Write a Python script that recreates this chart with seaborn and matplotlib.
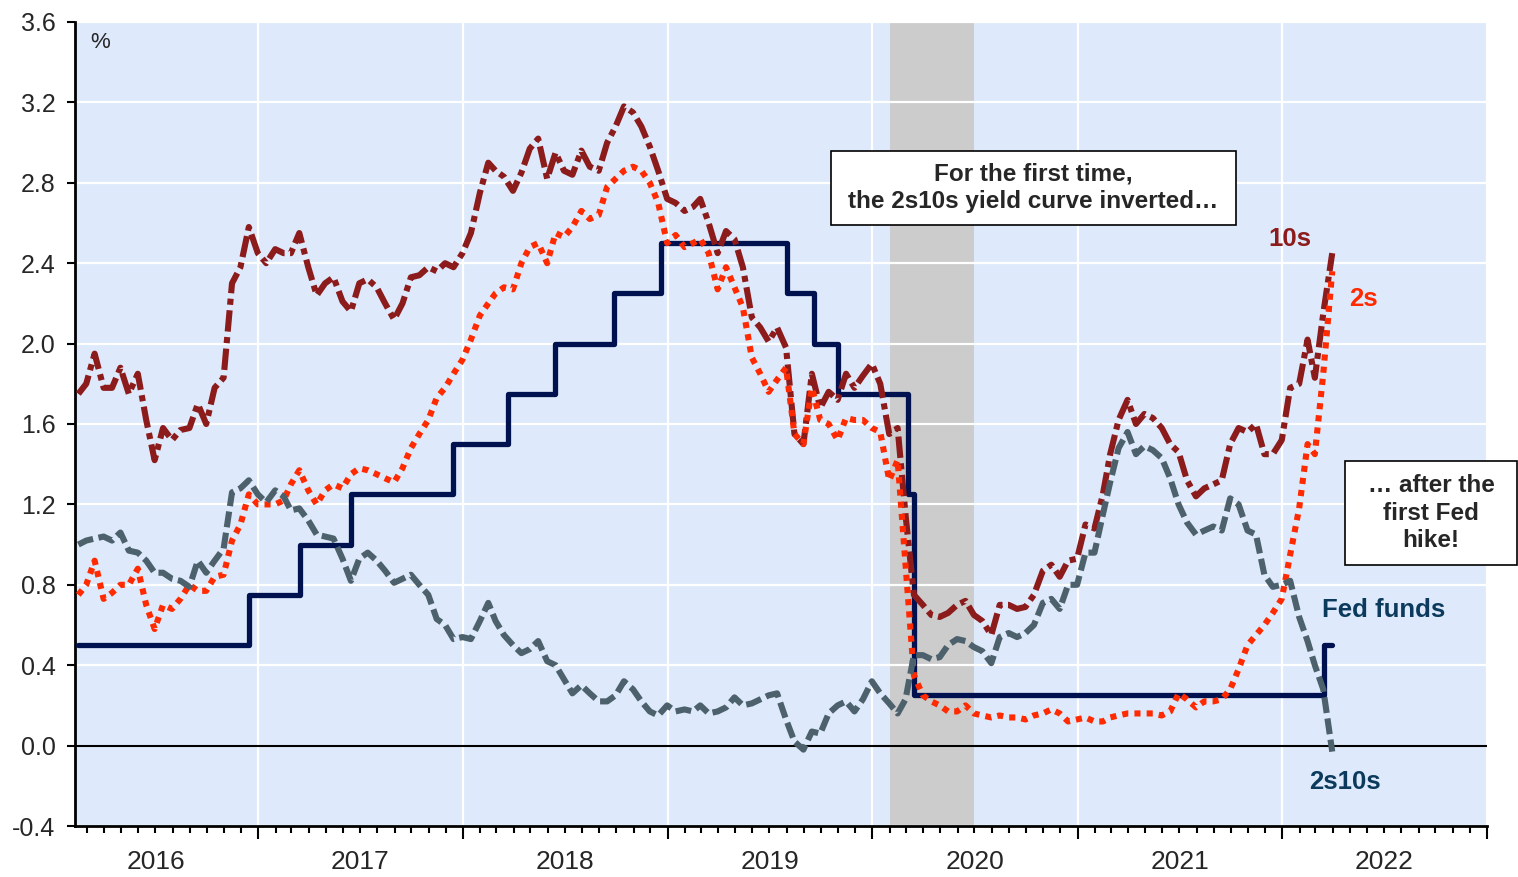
import pandas as pd
import matplotlib
matplotlib.use("Agg")
import matplotlib.pyplot as plt
import matplotlib.dates as mdates
from matplotlib.patches import Rectangle
from matplotlib.ticker import MultipleLocator, FormatStrFormatter
import seaborn as sns

#%% DATA (mid-month and month-end points)
months = pd.date_range("2016-02-01", "2022-03-01", freq="MS")
dates = pd.DatetimeIndex([d for m in months
                          for d in (m + pd.Timedelta(days=14), m + pd.offsets.MonthEnd(0))])

tens_2016 = [1.75, 1.80, 1.95, 1.78, 1.78, 1.88, 1.75, 1.85, 1.62, 1.42, 1.58, 1.52,
             1.57, 1.58, 1.70, 1.60, 1.78, 1.83, 2.30, 2.38, 2.58, 2.45]
tens_2017 = [2.40, 2.47, 2.45, 2.45, 2.55, 2.38, 2.24, 2.30, 2.33, 2.21, 2.16, 2.30,
             2.32, 2.28, 2.20, 2.12, 2.20, 2.33, 2.34, 2.38, 2.36, 2.40, 2.38, 2.45]
tens_2018 = [2.55, 2.75, 2.90, 2.86, 2.83, 2.76, 2.85, 2.97, 3.02, 2.82, 2.95, 2.86,
             2.84, 2.96, 2.88, 2.86, 3.00, 3.08, 3.18, 3.15, 3.08, 2.98, 2.86, 2.72]
tens_2019 = [2.70, 2.66, 2.68, 2.72, 2.60, 2.45, 2.56, 2.52, 2.38, 2.13, 2.08, 2.01,
             2.08, 1.98, 1.55, 1.50, 1.85, 1.68, 1.76, 1.72, 1.85, 1.78, 1.84, 1.90]
tens_2020 = [1.80, 1.55, 1.58, 1.15, 0.75, 0.70, 0.65, 0.64, 0.66, 0.70, 0.72, 0.65,
             0.62, 0.55, 0.70, 0.70, 0.68, 0.69, 0.75, 0.87, 0.90, 0.84, 0.92, 0.93]
tens_2021 = [1.10, 1.08, 1.25, 1.45, 1.62, 1.72, 1.60, 1.65, 1.63, 1.58, 1.50, 1.46,
             1.32, 1.24, 1.28, 1.30, 1.32, 1.50, 1.58, 1.56, 1.60, 1.45, 1.45, 1.52]
tens_2022 = [1.78, 1.80, 2.02, 1.83, 2.15, 2.45]

twos_2016 = [0.75, 0.80, 0.92, 0.73, 0.76, 0.80, 0.80, 0.88, 0.70, 0.58, 0.70, 0.68,
             0.73, 0.80, 0.77, 0.77, 0.84, 0.85, 1.02, 1.10, 1.25, 1.20]
twos_2017 = [1.20, 1.20, 1.22, 1.30, 1.37, 1.27, 1.20, 1.27, 1.30, 1.28, 1.35, 1.38,
             1.37, 1.35, 1.33, 1.31, 1.38, 1.48, 1.55, 1.62, 1.73, 1.78, 1.85, 1.92]
twos_2018 = [2.02, 2.14, 2.20, 2.25, 2.28, 2.27, 2.40, 2.48, 2.50, 2.40, 2.55, 2.53,
             2.58, 2.66, 2.62, 2.64, 2.78, 2.82, 2.86, 2.88, 2.86, 2.80, 2.70, 2.50]
twos_2019 = [2.54, 2.48, 2.50, 2.52, 2.45, 2.27, 2.38, 2.28, 2.18, 1.93, 1.85, 1.76,
             1.82, 1.88, 1.55, 1.50, 1.78, 1.62, 1.60, 1.52, 1.63, 1.62, 1.62, 1.58]
twos_2020 = [1.56, 1.32, 1.42, 0.90, 0.35, 0.25, 0.22, 0.20, 0.17, 0.17, 0.20, 0.16,
             0.15, 0.14, 0.15, 0.14, 0.14, 0.13, 0.15, 0.16, 0.18, 0.16, 0.12, 0.13]
twos_2021 = [0.14, 0.12, 0.12, 0.14, 0.15, 0.16, 0.16, 0.16, 0.16, 0.15, 0.17, 0.26,
             0.23, 0.19, 0.22, 0.22, 0.23, 0.28, 0.38, 0.50, 0.55, 0.60, 0.66, 0.73]
twos_2022 = [0.95, 1.18, 1.50, 1.45, 1.85, 2.36]

spread_2016 = [1.00, 1.02, 1.03, 1.04, 1.02, 1.06, 0.97, 0.96, 0.92, 0.86, 0.86, 0.83,
               0.82, 0.79, 0.92, 0.86, 0.92, 0.98, 1.26, 1.28, 1.32, 1.25]
spread_2017 = [1.21, 1.27, 1.24, 1.17, 1.18, 1.12, 1.05, 1.04, 1.03, 0.93, 0.82, 0.93,
               0.96, 0.92, 0.87, 0.81, 0.83, 0.85, 0.80, 0.75, 0.63, 0.60, 0.53, 0.54]
spread_2018 = [0.53, 0.62, 0.71, 0.62, 0.55, 0.50, 0.46, 0.48, 0.52, 0.42, 0.40, 0.33,
               0.26, 0.30, 0.26, 0.22, 0.22, 0.25, 0.32, 0.28, 0.22, 0.17, 0.15, 0.20]
spread_2019 = [0.17, 0.18, 0.17, 0.20, 0.16, 0.17, 0.19, 0.24, 0.20, 0.21, 0.23, 0.25,
               0.26, 0.13, 0.02, -0.02, 0.07, 0.06, 0.16, 0.20, 0.22, 0.17, 0.23, 0.32]
spread_2020 = [0.26, 0.21, 0.16, 0.23, 0.45, 0.45, 0.43, 0.44, 0.50, 0.53, 0.52, 0.49,
               0.47, 0.41, 0.54, 0.56, 0.54, 0.56, 0.60, 0.71, 0.73, 0.68, 0.80, 0.80]
spread_2021 = [0.96, 0.96, 1.15, 1.31, 1.48, 1.56, 1.45, 1.49, 1.47, 1.43, 1.33, 1.20,
               1.11, 1.05, 1.07, 1.09, 1.07, 1.23, 1.20, 1.07, 1.05, 0.85, 0.79, 0.80]
spread_2022 = [0.82, 0.64, 0.52, 0.40, 0.28, -0.03]

ff_dates = ["2016-02-15", "2016-12-15", "2017-03-16", "2017-06-15", "2017-12-14",
            "2018-03-22", "2018-06-14", "2018-09-27", "2018-12-20", "2019-08-01",
            "2019-09-19", "2019-10-31", "2020-03-04", "2020-03-16", "2022-03-17",
            "2022-03-31"]
ff_rates = [0.50, 0.75, 1.00, 1.25, 1.50, 1.75, 2.00, 2.25, 2.50, 2.25,
            2.00, 1.75, 1.25, 0.25, 0.50, 0.50]

recession = ("2020-02-01", "2020-06-30")

tens = tens_2016 + tens_2017 + tens_2018 + tens_2019 + tens_2020 + tens_2021 + tens_2022
twos = twos_2016 + twos_2017 + twos_2018 + twos_2019 + twos_2020 + twos_2021 + twos_2022
spread = (spread_2016 + spread_2017 + spread_2018 + spread_2019 + spread_2020
          + spread_2021 + spread_2022)

df = pd.DataFrame({"date": dates, "tens": tens, "twos": twos, "spread": spread})
ff = pd.DataFrame({"date": pd.to_datetime(ff_dates), "rate": ff_rates})

#%% STYLE
sns.set_theme(style="white")
plt.rcParams['font.family'] = ['Liberation Sans', 'DejaVu Sans']
plt.rcParams['axes.unicode_minus'] = False

C_TENS = "#8C1B1B"
C_TWOS = "#FF2A00"
C_SPREAD = "#4C616C"
C_FF = "#001150"
C_LABEL = "#0B3A5C"

W, H = 1518, 877
fig, ax = plt.subplots(figsize=(W / 100, H / 100), dpi=100)
fig.subplots_adjust(left=75 / W, right=1487 / W, top=1 - 22 / H, bottom=1 - 826 / H)
ax.set_facecolor("#DEEAFB")

ax.axvspan(pd.Timestamp(recession[0]), pd.Timestamp(recession[1]),
           color="#CCCCCC", lw=0, zorder=1)
ax.grid(True, color="white", lw=1.6)
ax.set_axisbelow("line")
ax.axhline(0, color="black", lw=1.5, zorder=1.8)

#%% LINES
sns.lineplot(data=ff, x="date", y="rate", drawstyle="steps-post", color=C_FF,
             lw=3.8, ax=ax, zorder=3)
sns.lineplot(data=df, x="date", y="tens", color=C_TENS, lw=4.4,
             linestyle=(0, (3.5, 0.9, 1, 0.9)), ax=ax, zorder=4)
sns.lineplot(data=df, x="date", y="twos", color=C_TWOS, lw=4.4,
             linestyle=(0, (1, 1)), ax=ax, zorder=5)
sns.lineplot(data=df, x="date", y="spread", color=C_SPREAD, lw=4.4,
             linestyle=(0, (2.6, 0.9)), ax=ax, zorder=6)

#%% AXES
ax.set_xlabel("")
ax.set_ylabel("")
ax.set_xlim(pd.Timestamp("2016-02-09"), pd.Timestamp("2023-01-01"))
ax.set_ylim(-0.4, 3.6)
ax.yaxis.set_major_locator(MultipleLocator(0.4))
ax.yaxis.set_major_formatter(FormatStrFormatter("%.1f"))
ax.xaxis.set_major_locator(mdates.YearLocator())
ax.xaxis.set_minor_locator(mdates.MonthLocator())
ax.xaxis.set_major_formatter(plt.NullFormatter())
ax.tick_params(axis="x", which="major", length=9, width=1.5, direction="out",
               bottom=True, color="black")
ax.tick_params(axis="x", which="minor", length=5, width=1.5, direction="out",
               bottom=True, color="black")
ax.tick_params(axis="y", length=6, width=1.5, direction="out", left=True,
               labelsize=18, pad=8, color="black")
for side in ["top", "right"]:
    ax.spines[side].set_visible(False)
for side in ["left", "bottom"]:
    ax.spines[side].set_color("black")
    ax.spines[side].set_linewidth(2)

for yr in range(2016, 2023):
    ax.text(pd.Timestamp(f"{yr}-07-02"), -0.045, str(yr), transform=ax.get_xaxis_transform(),
            ha="center", va="center", fontsize=19)

#%% LABELS
ax.text(0.018, 0.975, "%", transform=ax.transAxes, fontsize=16, ha="center", va="center")
lab = dict(fontsize=18.5, fontweight="bold", ha="center", va="center")
ax.text(pd.Timestamp("2022-01-15"), 2.52, "10s", color=C_TENS, **lab)
ax.text(pd.Timestamp("2022-05-25"), 2.22, "2s", color=C_TWOS, **lab)
ax.text(pd.Timestamp("2022-07-01"), 0.675, "Fed funds", color=C_LABEL, **lab)
ax.text(pd.Timestamp("2022-04-22"), -0.18, "2s10s", color=C_LABEL, **lab)

# callout boxes (figure-pixel layout)
boxes = [((831, 151, 1236, 225), (1033, 188),
          "For the first time,\nthe 2s10s yield curve inverted…"),
         ((1345, 461, 1517, 565), (1431, 513), "… after the\nfirst Fed\nhike!")]
for (x0, y0, x1, y1), (cx, cy), txt in boxes:
    fig.add_artist(Rectangle((x0 / W, 1 - y1 / H), (x1 - x0) / W, (y1 - y0) / H,
                             transform=fig.transFigure, facecolor="white",
                             edgecolor="black", lw=1.2, zorder=10))
    fig.text(cx / W, 1 - cy / H, txt, ha="center", va="center", fontsize=17.5,
             fontweight="bold", linespacing=1.25, zorder=11)

fig.savefig("out.png", dpi=100)
